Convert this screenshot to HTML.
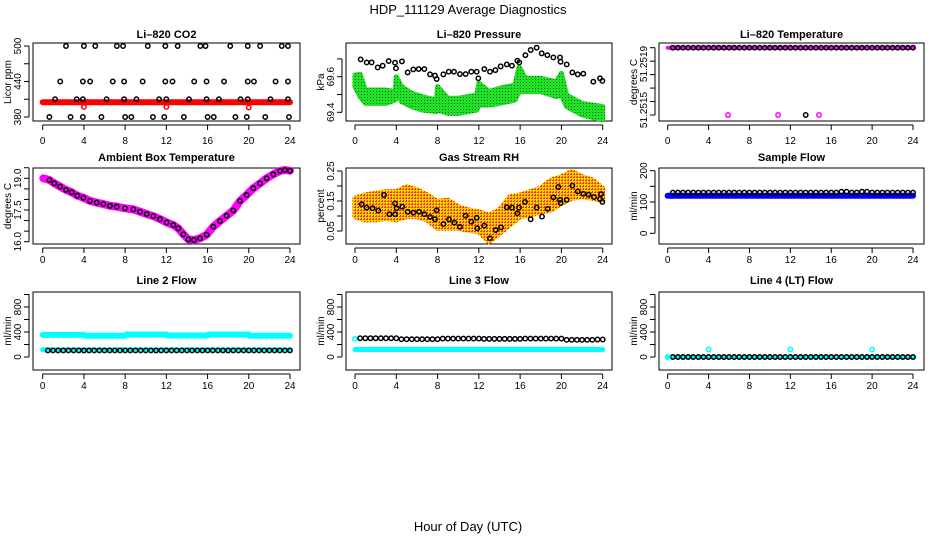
<!DOCTYPE html>
<html><head><meta charset="utf-8"><style>
body{margin:0;background:#fff}
svg{display:block;font-family:"Liberation Sans",sans-serif}
</style></head><body>
<svg id="c" width="936" height="540" viewBox="0 0 936 540">
<defs>
<pattern id="pg" width="3" height="3" patternUnits="userSpaceOnUse"><rect width="3" height="3" fill="#22e022"/><rect x="1" y="1" width="1" height="1" fill="#063"/></pattern>
<pattern id="po" width="3" height="3" patternUnits="userSpaceOnUse"><rect width="3" height="3" fill="#ffd000"/><rect x="0" y="0" width="2" height="1" fill="#f03000"/><rect x="1" y="2" width="1" height="1" fill="#f03000"/></pattern>
</defs>
<text x="468" y="14" text-anchor="middle" font-size="13">HDP_111129  Average Diagnostics</text>
<text x="468" y="531" text-anchor="middle" font-size="13">Hour of Day (UTC)</text>
</svg>
<script>
// ---- data ----
const hours48=[0.5,1,1.5,2,2.5,3,3.5,4,4.5,5,5.5,6,6.5,7,7.5,8,8.5,9,9.5,10,10.5,11,11.5,12,12.5,13,13.5,14,14.5,15,15.5,16,16.5,17,17.5,18,18.5,19,19.5,20,20.5,21,21.5,22,22.5,23,23.5,24];
const co2Hours=[2.26,4.0,5.1,7.2,7.8,10.2,11.9,13.1,15.3,15.8,18.2,19.9,21.1,23.2,23.8,1.7,3.9,4.6,6.8,7.9,9.7,11.9,12.6,14.7,15.9,17.6,19.9,20.5,22.6,23.8,1.2,3.3,3.9,6.2,7.9,9.1,11.3,12.0,14.2,15.9,17.1,19.2,19.9,22.1,23.8,0.65,2.7,3.9,5.7,8.0,8.6,10.7,11.8,13.7,16.0,16.6,18.7,19.8,21.6,23.9];
const co2Vals=[500,500,500,500,500,500,500,500,500,500,500,500,500,500,500,440,440,440,440,440,440,440,440,440,440,440,440,440,440,440,410,410,410,410,410,410,410,410,410,410,410,410,410,410,410,380,380,380,380,380,380,380,380,380,380,380,380,380,380,380];
const co2RedHours=[0,24];
const co2RedVals=[405,405];
const co2RedOutHours=[4,12,20];
const co2RedOutVals=[397,397,396];
const presHours=[0.55,1.13,1.61,2.2,2.68,3.26,3.88,3.97,4.55,5.1,5.65,6.17,6.72,7.27,7.75,7.91,8.56,9.08,9.59,10.17,10.72,11.27,11.79,11.95,12.53,13.08,13.6,14.11,14.7,15.21,15.73,15.92,16.51,17.02,17.6,18.09,18.64,19.22,19.86,19.92,20.51,21.06,21.58,22.12,23.09,23.74,23.97];
const presVals=[69.697,69.68,69.68,69.652,69.662,69.688,69.679,69.647,69.686,69.624,69.641,69.643,69.643,69.613,69.606,69.587,69.613,69.628,69.628,69.615,69.615,69.628,69.628,69.591,69.643,69.628,69.637,69.658,69.669,69.662,69.69,69.68,69.721,69.75,69.763,69.731,69.721,69.708,69.708,69.684,69.669,69.624,69.613,69.617,69.572,69.591,69.576];
const greenHours=[0,0.5,1,2,3,3.9,4.0,4.5,5.5,6.5,7.9,8.0,9,10,11.8,12.0,13,14,15.5,15.9,16.5,18,19.5,20,20.5,22,24];
const greenHi=[69.609,69.613,69.525,69.525,69.525,69.516,69.6,69.544,69.507,69.488,69.469,69.544,69.479,69.479,69.497,69.563,69.516,69.535,69.553,69.656,69.591,69.591,69.572,69.619,69.497,69.45,69.432];
const greenLo=[69.544,69.488,69.45,69.45,69.45,69.469,69.535,69.46,69.432,69.413,69.404,69.413,69.394,69.394,69.413,69.441,69.441,69.45,69.469,69.516,69.516,69.516,69.488,69.497,69.432,69.385,69.357];
const tempTopVal=51.2519;
const tempMagOutHours=[5.9,10.8,14.8];
const tempMagOutVals=[51.25145,51.25145,51.25145];
const tempBlackOutHours=[13.5];
const tempBlackOutVals=[51.25145];
const ambHours=[0.06,0.65,1.13,1.68,2.26,2.81,3.36,3.95,4.59,5.24,5.89,6.53,7.18,7.99,8.8,9.44,10.09,10.74,11.38,12.03,12.68,13.16,13.65,14.13,14.68,15.27,15.91,16.56,17.21,17.85,18.5,19.15,19.79,20.44,21.09,21.73,22.38,23.03,23.51,24.0];
const ambVals=[19.0,18.92,18.76,18.61,18.45,18.34,18.18,18.08,17.93,17.85,17.78,17.7,17.66,17.58,17.53,17.42,17.31,17.21,17.07,16.91,16.79,16.63,16.35,16.11,16.08,16.16,16.33,16.71,16.98,17.23,17.48,17.93,18.21,18.53,18.76,19.0,19.19,19.35,19.39,19.36];
const rhHours=[0.65,1.13,1.71,2.26,2.81,3.33,3.88,3.88,4.04,4.59,5.1,5.65,6.2,6.72,7.27,7.75,7.91,8.56,9.11,9.63,10.17,10.72,11.27,11.79,11.85,12.53,13.08,13.63,14.15,14.7,15.21,15.73,15.89,16.47,17.02,17.6,18.12,18.67,19.22,19.7,19.86,19.92,20.51,21.06,21.58,22.12,22.64,23.16,23.74,23.84,23.97];
const rhVals=[0.139,0.128,0.126,0.118,0.17,0.106,0.106,0.142,0.126,0.131,0.114,0.111,0.114,0.106,0.097,0.089,0.119,0.073,0.089,0.078,0.064,0.101,0.081,0.094,0.059,0.068,0.026,0.053,0.062,0.129,0.128,0.109,0.128,0.147,0.089,0.128,0.098,0.124,0.162,0.197,0.154,0.143,0.154,0.201,0.182,0.174,0.171,0.163,0.157,0.173,0.147];
const rhBandHours=[0,1,2,3,4,5,6,7,8,9,10,11,12,13,14,15,16,17,18,19,20,21,22,23,24];
const rhBandHi=[0.159,0.17,0.176,0.181,0.181,0.198,0.187,0.17,0.148,0.153,0.131,0.12,0.114,0.103,0.12,0.164,0.17,0.181,0.192,0.22,0.231,0.248,0.231,0.22,0.192];
const rhBandLo=[0.098,0.087,0.087,0.092,0.087,0.098,0.098,0.087,0.059,0.059,0.059,0.053,0.048,0.014,0.042,0.07,0.098,0.103,0.114,0.12,0.142,0.159,0.164,0.159,0.153];
const sampleBlack=[130,130,130,130,130,130,130,130,130,130,130,130,130,130,130,130,130,130,130,130,130,130,130,130,130,130,130,130,130,130,130,130,130,133,133,130,130,133,133,130,130,130,130,130,130,130,130,130];
const sampleBlueHours=[0,24];
const sampleBlueVals=[120,120];
const line2Black=[105,105,105,105,105,105,105,105,105,105,105,105,105,105,105,105,105,105,105,105,105,105,105,105,105,105,105,105,105,105,105,105,105,105,105,105,105,105,105,105,105,105,105,105,105,105,105,105];
const line2CyanHours=[0,4,4.1,8,8.1,12,12.1,16,16.1,20,20.1,24];
const line2CyanVals=[355,355,340,340,360,360,345,345,360,360,340,340];
const line2CyanLowHours=[0,24];
const line2CyanLowVals=[115,115];
const line3Black=[300,300,300,300,300,300,300,300,285,285,285,285,285,285,285,285,295,295,295,295,295,295,295,295,290,290,290,290,290,290,290,290,295,295,295,295,295,295,295,295,275,275,275,275,275,275,280,280];
const line3CyanHours=[0,24];
const line3CyanVals=[120,120];
const line4Black=[0,0,0,0,0,0,0,0,0,0,0,0,0,0,0,0,0,0,0,0,0,0,0,0,0,0,0,0,0,0,0,0,0,0,0,0,0,0,0,0,0,0,0,0,0,0,0,0];
const line4CyanOutHours=[0,4,12,20];
const line4CyanOutVals=[0,120,120,120];
const xTicks=[0,4,8,12,16,20,24];

// ---- layout ----
const S=document.getElementById('c');
const NS='http://www.w3.org/2000/svg';
function mk(tag,attrs,parent){const e=document.createElementNS(NS,tag);for(const k in attrs)e.setAttribute(k,attrs[k]);(parent||S).appendChild(e);return e;}
const cols=[{l:33,r:300,x0:42.7,x1:290},{l:346,r:612,x0:355,x1:602.7},{l:659,r:924,x0:667.7,x1:913}];
const rows=[{t:43,b:121,ty:34,lab:144},{t:168,b:244,ty:157,lab:263},{t:292,b:370,ty:280,lab:389}];
function linMap(d0,p0,d1,p1){return v=>p0+(v-d0)*(p1-p0)/(d1-d0);}

function panel(name,ci,ri,title,ylab,yMap,yTicks,yLabels){
  const c=cols[ci],r=rows[ri];
  const g=mk('g',{});
  
  
  const xm=linMap(0,c.x0,24,c.x1);
  const box=mk('rect',{x:c.l,y:r.t,width:c.r-c.l,height:r.b-r.t,fill:'none',stroke:'#000','stroke-width':1},g);
  
  
  const tt=mk('text',{x:(c.l+c.r)/2,y:r.ty+4,'text-anchor':'middle','font-size':11,'font-weight':'bold'},g);
  tt.textContent=title;
  
  
  const yt=mk('text',{transform:`translate(${c.l-22},${(r.t+r.b)/2}) rotate(-90)`,'text-anchor':'middle','font-size':10},g);
  yt.textContent=ylab;
  
  
  mk('line',{x1:xm(0),x2:xm(24),y1:r.b+4,y2:r.b+4,stroke:'#000'},g);
  xTicks.forEach(t=>{
    mk('line',{x1:xm(t),x2:xm(t),y1:r.b+4,y2:r.b+9,stroke:'#000'},g);
    const tx=mk('text',{x:xm(t),y:r.lab,'text-anchor':'middle','font-size':10},g);
    tx.textContent=t;
    
    
  });
  const ys=yTicks.map(yMap);
  mk('line',{x1:c.l-4,x2:c.l-4,y1:Math.min(...ys),y2:Math.max(...ys),stroke:'#000'},g);
  ys.forEach(y=>mk('line',{x1:c.l-9,x2:c.l-4,y1:y,y2:y,stroke:'#000'},g));
  yLabels.forEach(([v,txt,pos])=>{
    const py=pos!==undefined?pos:yMap(v);
    const tl=mk('text',{transform:`translate(${c.l-12},${py}) rotate(-90)`,'text-anchor':'middle','font-size':10},g);
    tl.textContent=txt;
    
    
  });
  return {g,xm,yMap};
}
function pts(p,hs,vs,color,name,r,fill){
  const g=mk('g',{},p.g);
  
  
  hs.forEach((h,i)=>{const e=mk('circle',{cx:p.xm(h),cy:p.yMap(vs[i]),r:r||2.2,fill:fill||'none',stroke:color,'stroke-width':1.5},g);
    
    });
}
function thick(p,hs,vs,color,w,name){
  const e=mk('polyline',{points:hs.map((h,i)=>p.xm(h)+','+p.yMap(vs[i])).join(' '),fill:'none',stroke:color,'stroke-width':w,'stroke-linecap':'round','stroke-linejoin':'round'},p.g);
  
  
}
function band(p,hs,hi,lo,fill,name){
  const up=hs.map((h,i)=>p.xm(h)+','+p.yMap(hi[i]));
  const dn=hs.map((h,i)=>p.xm(h)+','+p.yMap(lo[i])).reverse();
  const e=mk('polygon',{points:up.concat(dn).join(' '),fill:fill,stroke:fill,'stroke-width':5,'stroke-linejoin':'round'},p.g);
  
  
}

let p=panel('co2-panel',0,0,'Li\u2013820 CO2','Licor ppm',linMap(380,117,500,46),[380,410,440,470,500],[[380,'380'],[440,'440'],[500,'500']]);
thick(p,co2RedHours,co2RedVals,'#ff0000',6,'co2-red-band');
pts(p,co2RedOutHours,co2RedOutVals,'#ff0000','co2-red-points');
pts(p,co2Hours,co2Vals,'#000','co2-black-points');
p=panel('pressure-panel',1,0,'Li\u2013820 Pressure','kPa',linMap(69.4,112.3,69.6,76.7),[69.4,69.5,69.6,69.7],[[69.4,'69.4'],[69.6,'69.6']]);
band(p,greenHours,greenHi,greenLo,'url(#pg)','pressure-green-band');
pts(p,presHours,presVals,'#000','pressure-black-points');
p=panel('li820-temperature-panel',2,0,'Li\u2013820 Temperature','degrees C',linMap(51.25145,115,51.2519,47.7),[51.2519,51.25181,51.25172,51.25163,51.25154,51.25145],[[0,'51.2519',64],[0,'51.2515',110]]);
thick(p,[0,24],[tempTopVal,tempTopVal],'#ff00ff',4,'temp-magenta-line');
pts(p,hours48,hours48.map(()=>tempTopVal),'#000','temp-black-points');
pts(p,tempMagOutHours,tempMagOutVals,'#ff00ff','temp-magenta-outliers');
pts(p,tempBlackOutHours,tempBlackOutVals,'#000','temp-black-outlier');
p=panel('ambient-temperature-panel',0,1,'Ambient Box Temperature','degrees C',linMap(16,241.7,19,178.3),[16,16.5,17,17.5,18,18.5,19,19.5],[[16,'16.0'],[17.5,'17.5'],[19,'19.0']]);
thick(p,ambHours,ambVals,'#ff00ff',8,'ambient-magenta-line');
pts(p,ambHours.slice(1),ambVals.slice(1),'#000','ambient-black-points');
p=panel('gas-rh-panel',1,1,'Gas Stream RH','percent',linMap(0.05,231,0.25,171),[0.05,0.1,0.15,0.2,0.25],[[0.05,'0.05'],[0.15,'0.15'],[0.25,'0.25']]);
band(p,rhBandHours,rhBandHi,rhBandLo,'url(#po)','rh-orange-band');
pts(p,rhHours,rhVals,'#000','rh-black-points');
p=panel('sample-flow-panel',2,1,'Sample Flow','ml/min',linMap(0,233.3,200,170.7),[0,50,100,150,200],[[0,'0'],[100,'100'],[200,'200']]);
thick(p,sampleBlueHours,sampleBlueVals,'#0000ff',6,'sample-blue-band');
pts(p,hours48,sampleBlack,'#000','sample-black-points');
const r3=linMap(0,357,800,307);
p=panel('line2-flow-panel',0,2,'Line 2 Flow','ml/min',r3,[0,200,400,600,800,1000],[[0,'0'],[400,'400'],[800,'800']]);
thick(p,line2CyanHours,line2CyanVals,'#00ffff',6,'line2-cyan-upper');
thick(p,line2CyanLowHours,line2CyanLowVals,'#00ffff',5,'line2-cyan-lower');
pts(p,hours48,line2Black,'#000','line2-black-points');
p=panel('line3-flow-panel',1,2,'Line 3 Flow','ml/min',r3,[0,200,400,600,800,1000],[[0,'0'],[400,'400'],[800,'800']]);
thick(p,line3CyanHours,line3CyanVals,'#00ffff',5,'line3-cyan-lower');
pts(p,[0],[290],'#00ffff','line3-cyan-start');
pts(p,hours48,line3Black,'#000','line3-black-points');
p=panel('line4-flow-panel',2,2,'Line 4 (LT) Flow','ml/min',r3,[0,200,400,600,800,1000],[[0,'0'],[400,'400'],[800,'800']]);
thick(p,[0,24],[0,0],'#00ffff',3,'line4-cyan-band');
pts(p,hours48,line4Black,'#000','line4-black-points');
pts(p,line4CyanOutHours,line4CyanOutVals,'#00ffff','line4-cyan-points');
</script>
</body></html>
